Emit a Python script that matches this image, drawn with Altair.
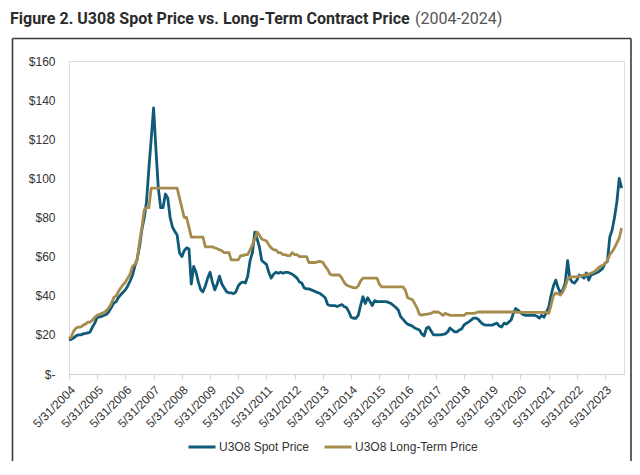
import calendar
import altair as alt
import pandas as pd

SPOT = "U3O8 Spot Price"
LT = "U3O8 Long-Term Price"

# Month-end values, starting May 2004 (one row per May..April year)
spot = [
    17.5, 17.75, 18.5, 19.5, 20, 20, 20.5, 20.75, 21, 21.5, 24, 26,
    29, 29.2, 29.5, 30, 30.5, 32, 34, 36.25, 37, 39, 40.5, 41.75,
    43, 45, 47.5, 50.5, 55, 59, 65, 74, 80, 88, 105, 120,
    136, 115, 95, 85, 85, 92, 90, 80, 75, 73, 71, 62,
    60, 63, 64.5, 64, 46, 55, 52, 47, 43, 42, 45, 49,
    52, 47, 43, 46, 50, 46, 44, 42, 41.5, 41.5, 41, 42,
    45, 46.5, 47, 46.5, 50, 58, 62, 72.5, 69, 65, 58, 57,
    56, 52, 49, 51, 52, 51.5, 52, 51.5, 52, 52, 51.5, 51,
    50, 49, 47, 46.5, 44, 43.5, 43.5, 43, 42.5, 42, 41.5, 41,
    40, 39, 35.5, 35, 35, 35, 34.5, 35, 35.5, 34.5, 34, 32,
    29, 28.5, 28.5, 30, 35, 39.5, 36, 39, 37, 35, 37.5, 37,
    37, 37, 37, 37, 36.5, 36, 35, 34, 32.7, 29.5, 28, 26.6,
    25.5, 25, 24.5, 23.5, 23, 22.5, 20.5, 19.5, 23.5, 24, 22, 20,
    20, 20, 20, 20.2, 20.5, 21.5, 23.5, 22.5, 21.5, 21.5, 22.5, 23,
    25, 26, 26.6, 27.5, 28.6, 28.6, 28, 26.6, 25.5, 25, 25, 25,
    25, 25.5, 26, 24.5, 24, 26, 25.5, 26.5, 27.6, 31, 33.5, 32.5,
    31.5, 30.5, 30, 30, 30, 30, 30, 29.5, 28.6, 30, 29, 31.5,
    34, 40, 45, 48, 44, 41.4, 43, 46.5, 58, 49, 47, 46.5,
    48, 50.6, 50, 49, 51.6, 48, 50.6, 51, 51.6, 52, 53, 54,
    56.7, 57.5, 70, 73.6, 80, 88, 100, 95,
]

long_term = [
    18, 19, 22, 23.5, 24, 24, 25, 25.5, 26.5, 26.5, 27.5, 29,
    30, 30.5, 31, 31.5, 32.5, 34, 36, 39, 40, 42, 44, 45.5,
    47, 49, 51, 55, 56, 58.5, 67.5, 75, 84, 85, 85, 95,
    95, 95, 95, 95, 95, 95, 95, 95, 95, 95, 95, 90,
    85, 80, 80, 75, 70, 70, 70, 70, 70, 70, 65, 65,
    65, 65, 64.5, 64, 63.5, 63, 62, 62, 62, 58.3, 58.3, 58.3,
    58.3, 60.5, 60.5, 61, 61, 63.5, 66, 69, 72.6, 71, 69, 68.5,
    68, 66, 64.5, 63.5, 63.5, 62, 62, 61, 61, 60.5, 60.5, 62,
    61, 61, 60, 60, 60, 60, 57, 57, 57, 57, 57.5, 57.5,
    57, 55, 53.5, 51, 50.6, 50.6, 50.6, 50.6, 49, 47, 45.5, 45,
    44.5, 44.2, 44, 45, 47.5, 49, 49, 49, 49, 49, 49, 49,
    46, 44.5, 44.5, 44.5, 44.5, 44.5, 44.5, 44.5, 44.5, 44.5, 44.5, 43,
    39, 38.5, 38, 36, 33.8, 30.5, 30, 30.5, 30.5, 30.8, 31, 31.7,
    31.7, 31.7, 31, 30, 31, 30.5, 30, 30, 30, 30, 30, 30,
    30, 31, 31, 31, 31, 31.3, 31.7, 31.7, 31.7, 31.7, 31.7, 31.7,
    31.7, 31.7, 31.7, 31.7, 31.7, 31.7, 31.7, 31.7, 31.7, 31.7, 31.7, 31.5,
    31.5, 31.5, 31.5, 31.5, 31.5, 31.5, 31.5, 31.5, 31.5, 31.5, 31.5, 31.5,
    31, 35, 40, 41.4, 41, 40.4, 42, 44.5, 48.5, 49.5, 49.6, 49.6,
    49.6, 50, 50.3, 50.6, 50.6, 51, 51.6, 52, 53, 54, 55, 55.5,
    56.5, 58, 61, 62.5, 64.5, 67, 69.5, 74.6,
]

tick_years = list(range(2004, 2024))
y_ticks = [0, 20, 40, 60, 80, 100, 120, 140, 160]


def month_ends(year, month, n):
    out = []
    for _ in range(n):
        d = calendar.monthrange(year, month)[1]
        out.append(f"{year:04d}-{month:02d}-{d:02d}")
        month += 1
        if month > 12:
            month = 1
            year += 1
    return out


n = len(spot)
dates = month_ends(2004, 5, n)
df = pd.DataFrame({
    "date": dates + dates,
    "series": [SPOT] * n + [LT] * len(long_term),
    "price": spot + long_term,
})

C_SPOT = "#0e5a78"
C_LT = "#a68c4c"
FONT = "Liberation Sans"

x_enc = alt.X(
    "date:T",
    title=None,
    scale=alt.Scale(
        type="utc",
        domain=[alt.DateTime(year=2004, month=5, date=31, utc=True),
                alt.DateTime(year=2024, month=1, date=31, utc=True)],
    ),
    axis=alt.Axis(
        values=[alt.DateTime(year=y, month=5, date=31, utc=True) for y in tick_years],
        format="%-m/%-d/%Y",
        labelAngle=-45,
        labelFontSize=12,
        labelFont=FONT,
        labelColor="#333333",
        labelPadding=5,
        domainColor="#d0d0d0",
        tickColor="#d0d0d0",
        tickSize=5,
        grid=False,
        labelOverlap=False,
    ),
)
y_enc = alt.Y(
    "price:Q",
    title=None,
    scale=alt.Scale(domain=[0, 160], nice=False),
    axis=alt.Axis(
        values=y_ticks,
        labelExpr="datum.value == 0 ? '$-\u00a0\u00a0' : '$' + datum.value",
        domain=False,
        ticks=False,
        grid=False,
        labelPadding=14,
        labelFontSize=12,
        labelFont=FONT,
        labelColor="#333333",
    ),
)
color_enc = alt.Color(
    "series:N",
    scale=alt.Scale(domain=[SPOT, LT], range=[C_SPOT, C_LT]),
    legend=alt.Legend(
        title=None,
        orient="none",
        legendX=118,
        legendY=371,
        direction="horizontal",
        symbolType="stroke",
        symbolStrokeWidth=3,
        symbolSize=729,
        labelFontSize=12,
        labelFont=FONT,
        labelColor="#333333",
        labelOffset=2,
        columnPadding=8,
    ),
)

base = alt.Chart(df).encode(x=x_enc, y=y_enc, color=color_enc)
spot_line = base.transform_filter(alt.datum.series == SPOT).mark_line(strokeWidth=2.8, strokeJoin="round")
lt_line = base.transform_filter(alt.datum.series == LT).mark_line(strokeWidth=2.8, strokeJoin="round")

one = alt.Data(values=[{"k": 1}])
frame_left = alt.Chart(one).mark_rule(color="#3a3a3a", strokeWidth=1.6).encode(
    x=alt.value(-56.5), y=alt.value(-22.5), y2=alt.value(400))
frame_top = alt.Chart(one).mark_rule(color="#3a3a3a", strokeWidth=1.6).encode(
    x=alt.value(-56.5), x2=alt.value(562), y=alt.value(-22.5))
frame_right = alt.Chart(one).mark_rule(color="#3a3a3a", strokeWidth=1.6).encode(
    x=alt.value(562), y=alt.value(-22.5), y2=alt.value(400))

title_main = alt.Chart(one).mark_text(
    text="Figure 2. U308 Spot Price vs. Long-Term Contract Price",
    align="left", baseline="alphabetic", font="Roboto", fontWeight="bold",
    fontSize=16, color="#2b2b2b",
).encode(x=alt.value(-59), y=alt.value(-37.5))
title_years = alt.Chart(one).mark_text(
    text="(2004-2024)",
    align="left", baseline="alphabetic", font="Roboto", fontWeight="normal",
    fontSize=16, color="#555555",
).encode(x=alt.value(346), y=alt.value(-37.5))

chart = alt.layer(
    frame_left, frame_top, frame_right, spot_line, lt_line, title_main, title_years
).properties(
    width=555,
    height=313,
    padding={"left": 61, "top": 53, "right": 8, "bottom": 90},
    autosize=alt.AutoSizeParams(type="none"),
).configure_view(stroke=None).configure(background="white")

chart.save("out.html", embed_options={"renderer": "svg", "actions": False})
